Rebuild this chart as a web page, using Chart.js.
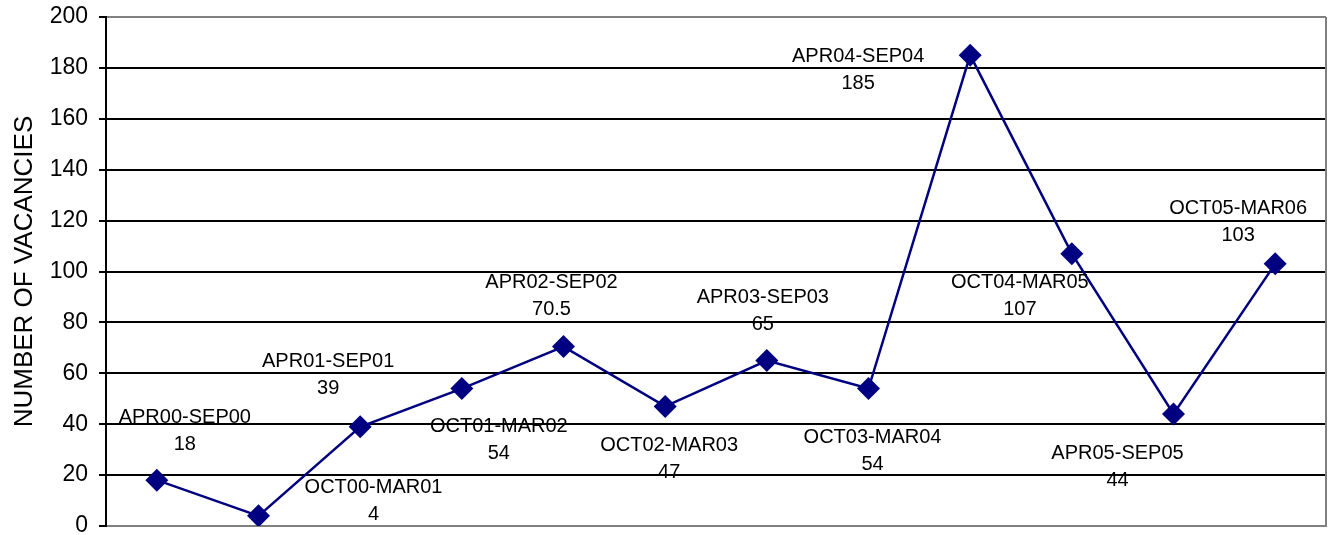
<!DOCTYPE html>
<html lang="en">
<head>
  <meta charset="UTF-8" />
  <title>Number of Vacancies</title>
  <script src="https://cdn.jsdelivr.net/npm/chart.js"></script>
  <style>
    html, body { margin: 0; padding: 0; background: #fff; }
    #wrap { width: 1332px; height: 535px; }
  </style>
</head>
<body>
  <div id="wrap"><canvas id="vacancies-chart"></canvas></div>

  <script>
    // Half-year periods and vacancy counts
    const periods = [
      'APR00-SEP00', 'OCT00-MAR01', 'APR01-SEP01', 'OCT01-MAR02',
      'APR02-SEP02', 'OCT02-MAR03', 'APR03-SEP03', 'OCT03-MAR04',
      'APR04-SEP04', 'OCT04-MAR05', 'APR05-SEP05', 'OCT05-MAR06'
    ];
    const vacancies = [18, 4, 39, 54, 70.5, 47, 65, 54, 185, 107, 44, 103];
    const valueLabels = ['18', '4', '39', '54', '70.5', '47', '65', '54', '185', '107', '44', '103'];

    // where each two-line label sits relative to its point (px)
    const labelOffsets = [
      [28, -63], [115, -28], [-32, -65], [37, 38],
      [-12, -64], [4, 39], [-4, -63], [4, 49],
      [-112, 1], [-52, 29], [-56, 39], [-37, -55]
    ];

    const FONT = '"Liberation Sans", Arial, sans-serif';

    // draws the period name + value next to every point, and the right border
    const pointLabels = {
      id: 'pointLabels',
      afterDatasetsDraw(chart) {
        const { ctx, chartArea } = chart;
        const meta = chart.getDatasetMeta(0);
        ctx.save();
        ctx.strokeStyle = '#808080';
        ctx.lineWidth = 2;
        ctx.beginPath();
        ctx.moveTo(chartArea.right, chartArea.top);
        ctx.lineTo(chartArea.right, chartArea.bottom);
        ctx.stroke();

        ctx.font = '20px ' + FONT;
        ctx.fillStyle = '#000';
        ctx.textAlign = 'center';
        ctx.textBaseline = 'middle';
        meta.data.forEach((pt, i) => {
          const [dx, dy] = labelOffsets[i];
          ctx.fillText(periods[i], pt.x + dx, pt.y + dy);
          ctx.fillText(valueLabels[i], pt.x + dx, pt.y + dy + 27);
        });
        ctx.restore();
      }
    };

    const ctx = document.getElementById('vacancies-chart').getContext('2d');
    new Chart(ctx, {
      type: 'line',
      data: {
        labels: periods,
        datasets: [{
          data: vacancies,
          borderColor: '#000080',
          borderWidth: 2.5,
          backgroundColor: '#000080',
          pointStyle: 'rectRot',
          pointRadius: 11.5,
          pointBorderWidth: 0,
          pointBackgroundColor: '#000080',
          tension: 0,
          fill: false
        }]
      },
      options: {
        responsive: true,
        maintainAspectRatio: false,
        animation: false,
        layout: { autoPadding: false, padding: { top: 17, right: 6, left: 0, bottom: 0 } },
        plugins: {
          legend: { display: false },
          tooltip: { enabled: false }
        },
        scales: {
          x: {
            offset: true,
            grid: { display: false },
            ticks: { display: false },
            border: { color: '#808080', width: 2 },
            afterFit(scale) {
              scale.height = 9;
              scale.paddingLeft = 0;
              scale.paddingRight = 0;
            }
          },
          y: {
            min: 0,
            max: 200,
            ticks: {
              stepSize: 20,
              color: '#000',
              padding: 11,
              font: { family: FONT, size: 23 }
            },
            grid: {
              color: c => (c.tick.value === 200 || c.tick.value === 0) ? '#808080' : '#000',
              lineWidth: 2,
              tickColor: '#000',
              tickLength: 7
            },
            border: { color: '#000', width: 2 },
            title: {
              display: true,
              text: 'NUMBER OF VACANCIES',
              color: '#000',
              padding: { top: 9, bottom: 0 },
              font: { family: FONT, size: 26, lineHeight: 1.2 }
            },
            afterFit(scale) {
              scale.width = 106;
              scale.paddingTop = 0;
              scale.paddingBottom = 0;
            }
          }
        }
      },
      plugins: [pointLabels]
    });
  </script>
</body>
</html>
